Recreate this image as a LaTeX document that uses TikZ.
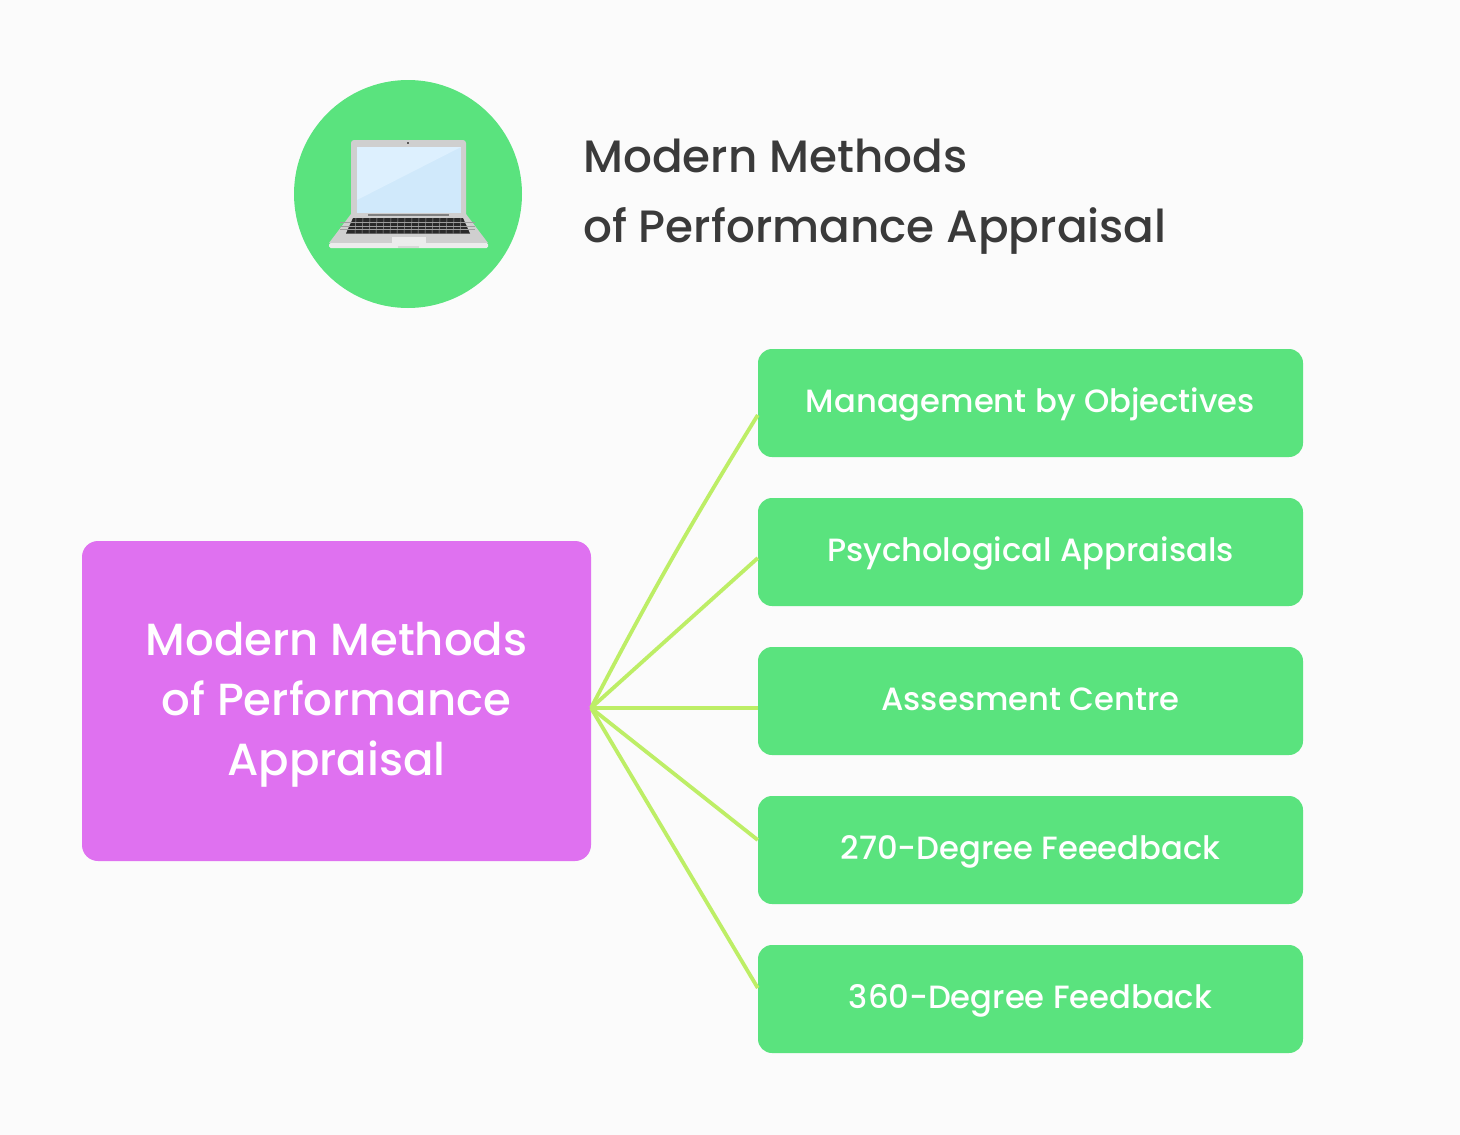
\documentclass[tikz,border=0pt]{standalone}
\usepackage{fontspec}
\setmainfont{Poppins Medium}
\usetikzlibrary{calc}
\definecolor{bgc}{HTML}{FBFBFB}
\definecolor{grn}{HTML}{5AE37E}
\definecolor{pur}{HTML}{DF71F0}
\definecolor{lnk}{HTML}{BDEE66}
\definecolor{ttl}{HTML}{3A3A3A}
\definecolor{lapg}{HTML}{CFCFCF}
\definecolor{lapl}{HTML}{ECECEC}
\definecolor{scr}{HTML}{D0E9FB}
\definecolor{scrl}{HTML}{DDF0FE}
\definecolor{keyc}{HTML}{2A2A2A}
\tikzset{
 x=1pt,y=-1pt,
 item/.style={fill=grn,rounded corners=14pt,minimum width=545pt,minimum height=108pt,inner sep=0pt},
 itemlabel/.style={anchor=base,inner sep=0pt,text=white,font=\fontsize{32.2}{32}\selectfont},
 main/.style={fill=pur,rounded corners=16pt,minimum width=509pt,minimum height=320pt,inner sep=0pt},
 mainlabel/.style={anchor=base,inner sep=0pt,text=white,font=\fontsize{45}{60}\selectfont},
 link/.style={draw=lnk,line width=3.8pt},
 ttlnode/.style={anchor=base west,inner sep=0pt,text=ttl,font=\fontsize{45.3}{44}\selectfont},
}
\begin{document}
\begin{tikzpicture}
\useasboundingbox (0,0) rectangle (1460,1135);
\fill[bgc] (0,0) rectangle (1460,1135);
% icon
\node[circle,fill=grn,minimum size=228pt,inner sep=0pt] (icon) at (408,194) {};
\fill[lapg,rounded corners=3pt] (351,140) rectangle (466,220);
\fill[scr] (357,147) rectangle (461,213);
\fill[scrl] (357,147) -- (461,147) -- (357,200) -- cycle;
\fill[gray!70!black] (407,141.5) rectangle (409,143.5);
\fill[lapg] (351,214) -- (466,214) -- (488,243) -- (329,243) -- cycle;
\fill[lapl,rounded corners=1.5pt] (329,243) rectangle (488,248);
\fill[gray] (368,214) rectangle (449,215.5);
\fill[keyc] (353,218) -- (463,218) -- (470,233.5) -- (346,233.5) -- cycle;
\foreach \yy in {221.9,225.8,229.7}{\draw[lapg!70!keyc,line width=.6pt] (340,\yy) -- (475,\yy);}
\foreach \xx in {356,363,...,462}{\draw[lapg!70!keyc,line width=.5pt] (\xx,218) -- (\xx-1,233.5);}
\fill[lapl] (392,237) rectangle (426,243);
\fill[lapg!80!white] (398,248) rectangle (419,245.5);
% title
\node[ttlnode] (t1) at (583,172) {Modern Methods};
\node[ttlnode] (t2) at (583,242) {of Performance Appraisal};
% main
\node[main] (m) at (336.5,701) {};
\node[mainlabel] (m1) at (336.5,655) {Modern Methods};
\node[mainlabel] (m2) at (336.5,715) {of Performance};
\node[mainlabel] (m3) at (336.5,775) {Appraisal};
\coordinate (hub) at (591,708);
\node[item] (b1) at (1030.5,403) {};
\node[item] (b2) at (1030.5,552) {};
\node[item] (b3) at (1030.5,701) {};
\node[item] (b4) at (1030.5,850) {};
\node[item] (b5) at (1030.5,999) {};
\node[itemlabel] (l1) at (1030.5,412) {Management by Objectives};
\node[itemlabel] (l2) at (1030.5,561) {Psychological Appraisals};
\node[itemlabel] (l3) at (1030.5,710) {Assesment Centre};
\node[itemlabel] (l4) at (1030.5,859) {270-Degree Feeedback};
\node[itemlabel] (l5) at (1030.5,1008) {360-Degree Feedback};
\draw[link] (hub) to[bend left=2] ([yshift=-12pt]b1.west);
\draw[link] (hub) -- ([yshift=-6pt]b2.west);
\draw[link] (hub) -- ([yshift=-7pt]b3.west);
\draw[link] (hub) -- ([yshift=10pt]b4.west);
\draw[link] (hub) -- ([yshift=11pt]b5.west);
\end{tikzpicture}
\end{document}
